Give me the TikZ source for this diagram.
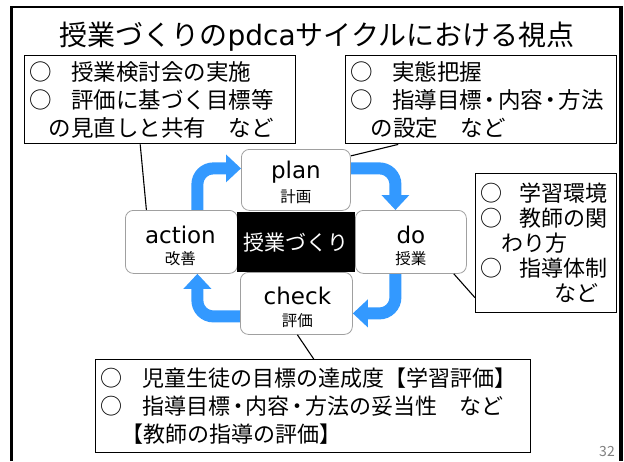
\documentclass[tikz,border=0pt]{standalone}
\usepackage{fontspec}
\setmainfont{Noto Sans CJK JP}
\newfontfamily\lat{DejaVu Sans}
\usetikzlibrary{arrows.meta,calc}
\pgfdeclarelayer{background}
\pgfsetlayers{background,main}
\definecolor{arrowblue}{RGB}{51,153,255}
\definecolor{stageborder}{RGB}{160,160,160}
\newcommand{\dotsep}{\hspace{-0.15em}・\hspace{-0.15em}}
\begin{document}
\begin{tikzpicture}[x=1pt,y=-1pt,
  textbox/.style={draw=black,line width=1.4pt,fill=white,anchor=north west,
    inner xsep=5pt,inner ysep=0pt,align=left,font=\fontsize{22.5}{28}\selectfont},
  stage/.style={draw=stageborder,line width=0.8pt,fill=white,rounded corners=8pt,
    anchor=north west,inner sep=0pt},
  core/.style={fill=black,anchor=north west,inner sep=0pt,text=white,
    font=\fontsize{21}{21}\selectfont},
  big/.style={font=\lat\fontsize{23}{23}\selectfont,inner sep=0pt},
  small/.style={font=\fontsize{15.5}{16}\selectfont,inner sep=0pt},
  flow/.style={arrowblue,line width=12pt,rounded corners=16pt,
    -{Triangle[width=27pt,length=15pt]}},
  conn/.style={draw=black,line width=1.1pt}]
\useasboundingbox (0,0) rectangle (624,461);
% outer frame
\draw[line width=2.5pt] (11.5,461) -- (11.5,7) -- (621,7);
\draw[line width=4pt] (621,5.75) -- (621,461);
% title
\node[inner sep=0pt,font=\fontsize{28}{28}\selectfont] (title) at (317,37)
  {授業づくりの{\lat pdca}サイクルにおける視点};
% text boxes
\node[textbox,text width=261pt,minimum height=88pt] (tl) at (24,55)
  {○\hspace{0.85em}授業検討会の実施\\○\hspace{0.85em}評価に基づく目標等\\\hspace*{0.85em}の見直しと共有　など};
\node[textbox,text width=261pt,minimum height=88pt] (tr) at (345,55)
  {○\hspace{0.85em}実態把握\\○\hspace{0.85em}指導目標\dotsep 内容\dotsep 方法\\\hspace*{0.9em}の設定　など};
\node[textbox,text width=131pt,minimum height=139pt,
  font=\fontsize{22}{25}\selectfont] (rb) at (475,173)
  {○\hspace{0.75em}学習環境\\○\hspace{0.75em}教師の関\\\hspace*{0.95em}わり方\\○\hspace{0.75em}指導体制\\\hspace*{3.35em}など};
\node[textbox,text width=425pt,minimum height=93pt,
  font=\fontsize{22}{28}\selectfont] (bb) at (95,359)
  {○\hspace{0.9em}児童生徒の目標の達成度【学習評価】\\○\hspace{0.9em}指導目標\dotsep 内容\dotsep 方法の妥当性　など\\\hspace*{0.95em}【教師の指導の評価】};
% stages
\node[stage,minimum width=109pt,minimum height=61pt] (plan) at (241,149) {};
\node[stage,minimum width=112pt,minimum height=63pt] (action) at (125,210) {};
\node[stage,minimum width=111pt,minimum height=63pt] (do) at (355,210) {};
\node[stage,minimum width=112pt,minimum height=62pt] (check) at (240,272) {};
\node[core,minimum width=118pt,minimum height=60pt] (core) at (237,212) {授業づくり};
% stage labels
\node[big] (planT) at ($(plan.center)+(0,-7.5)$) {plan};
\node[small] (planS) at ($(plan.center)+(0,17)$) {計画};
\node[big] (actionT) at ($(action.center)+(-1,-6.5)$) {action};
\node[small] (actionS) at ($(action.center)+(-1,17)$) {改善};
\node[big] (doT) at ($(do.center)+(0,-6.5)$) {do};
\node[small] (doS) at ($(do.center)+(0,17)$) {授業};
\node[big] (checkT) at ($(check.center)+(1,-7)$) {check};
\node[small] (checkS) at ($(check.center)+(1,17)$) {評価};
% page number
\node[inner sep=0pt,text=gray,font=\fontsize{14}{14}\selectfont] (pg) at (607,452) {32};
% blue cycle arrows
\begin{pgfonlayer}{background}
\draw[flow] ($(action.north)+(16,0)$) |- ($(plan.west)+(0,-11.5)$);
\draw[flow] ($(plan.east)+(0,-11.5)$) -| ($(do.north)+(-15.5,0)$);
\draw[flow] ($(do.south)+(-15.5,0)$) |- ($(check.east)+(0,10)$);
\draw[flow] ($(check.west)+(0,13)$) -| ($(action.south)+(16,0)$);
\end{pgfonlayer}
% connectors
\draw[conn] ($(tl.south)+(-20,0)$) -- ($(action.north)+(-35,0)$);
\draw[conn] ($(tr.south)+(-83,0)$) -- ($(plan.east)+(0,-24)$);
\draw[conn] ($(do.south east)+(-13,0)$) -- ($(rb.west)+(0,54.5)$);
\draw[conn] ($(check.south)+(1,0)$) -- ($(bb.north)+(0.5,0)$);
\end{tikzpicture}
\end{document}
